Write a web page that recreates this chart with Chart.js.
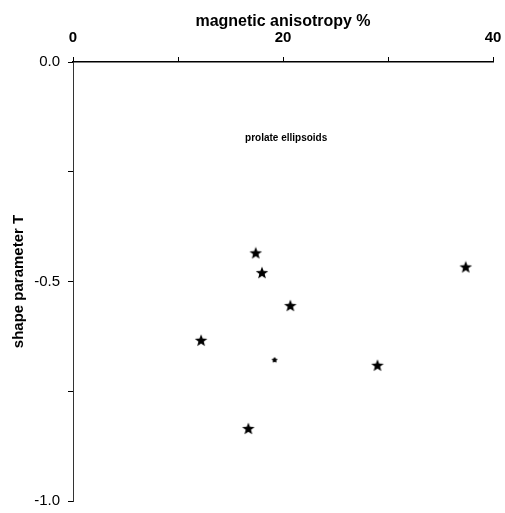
<!DOCTYPE html>
<html>
<head>
<meta charset="utf-8">
<script src="https://cdn.jsdelivr.net/npm/chart.js@4/dist/chart.umd.min.js"></script>
<style>
  html, body { margin: 0; padding: 0; background: #fff; }
  #wrap { width: 505px; height: 513px; }
</style>
</head>
<body>
<div id="wrap"><canvas id="c" width="505" height="513"></canvas></div>
<script>
// Samples: magnetic anisotropy (%) against shape parameter T
const anisotropy = [17.4, 18.0, 20.7, 12.2, 16.7, 37.4, 29.0];
const shapeT     = [-0.436, -0.481, -0.556, -0.635, -0.836, -0.468, -0.692];

// a faint, partly printed sample
const faintAnisotropy = [19.2];
const faintShapeT     = [-0.679];

const xTickLabels = { 0: '0', 20: '20', 40: '40' };
const yTickLabels = { '0': '0.0', '-0.5': '-0.5', '-1': '-1.0' };

// filled five-pointed star used as the point marker
function makeStar(size, outer, inner) {
  const cv = document.createElement('canvas');
  cv.width = size; cv.height = size;
  const g = cv.getContext('2d');
  const c = size / 2;
  g.beginPath();
  for (let i = 0; i < 10; i++) {
    const r = i % 2 === 0 ? outer : inner;
    const a = -Math.PI / 2 + i * Math.PI / 5;
    const px = c + r * Math.cos(a), py = c + r * Math.sin(a);
    if (i === 0) g.moveTo(px, py); else g.lineTo(px, py);
  }
  g.closePath();
  g.fillStyle = '#000';
  g.fill();
  return cv;
}
const star = makeStar(14, 6.6, 2.8);
const smallStar = makeStar(8, 3.2, 1.8);

const toPoints = (xs, ys) => xs.map((x, i) => ({ x: x, y: ys[i] }));

// region note written inside the plot
const notePlugin = {
  id: 'note',
  afterDatasetsDraw(chart) {
    const { ctx, scales } = chart;
    ctx.save();
    ctx.font = 'bold 10px "Liberation Sans", Arial, sans-serif';
    ctx.fillStyle = '#000';
    ctx.textAlign = 'center';
    ctx.textBaseline = 'middle';
    ctx.fillText('prolate ellipsoids', scales.x.getPixelForValue(20.3), scales.y.getPixelForValue(-0.174));
    ctx.restore();
  }
};

const font = '"Liberation Sans", Arial, sans-serif';

new Chart(document.getElementById('c'), {
  type: 'scatter',
  data: {
    datasets: [
      {
        data: toPoints(anisotropy, shapeT),
        pointStyle: star,
        pointRadius: 7,
        pointHoverRadius: 7
      },
      {
        data: toPoints(faintAnisotropy, faintShapeT),
        pointStyle: smallStar,
        pointRadius: 4,
        pointHoverRadius: 4
      }
    ]
  },
  options: {
    responsive: false,
    animation: false,
    layout: { padding: { top: 0, left: 0, right: 12, bottom: 12 } },
    plugins: {
      legend: { display: false },
      tooltip: { enabled: false }
    },
    scales: {
      x: {
        type: 'linear',
        position: 'top',
        min: 0,
        max: 40,
        afterFit(s) { s.height = 62; s.paddingLeft = 0; s.paddingRight = 0; },
        ticks: {
          stepSize: 10,
          color: '#000',
          padding: 10,
          maxRotation: 0,
          font: { family: font, size: 15, weight: 'bold' },
          callback: v => xTickLabels[v] !== undefined ? xTickLabels[v] : ''
        },
        grid: {
          drawOnChartArea: false,
          drawTicks: true,
          tickLength: 5,
          color: '#000',
          lineWidth: 1
        },
        border: { display: true, color: '#000', width: 1.5 },
        title: {
          display: true,
          text: 'magnetic anisotropy %',
          color: '#000',
          padding: { top: 12, bottom: 0 },
          font: { family: font, size: 16, weight: 'bold' }
        }
      },
      y: {
        type: 'linear',
        position: 'left',
        min: -1,
        max: 0,
        afterFit(s) { s.width = 73; s.paddingTop = 0; s.paddingBottom = 0; },
        ticks: {
          stepSize: 0.25,
          color: '#000',
          padding: 8,
          font: { family: font, size: 15 },
          callback: v => yTickLabels[String(v)] !== undefined ? yTickLabels[String(v)] : ''
        },
        grid: {
          drawOnChartArea: false,
          drawTicks: true,
          tickLength: 5,
          color: '#000',
          lineWidth: 1
        },
        border: { display: true, color: '#333', width: 1, dash: [9, 3, 1, 3] },
        title: {
          display: true,
          text: 'shape parameter T',
          color: '#000',
          padding: { top: 10, bottom: 0 },
          font: { family: font, size: 15, weight: 'bold' }
        }
      }
    }
  },
  plugins: [notePlugin]
});
</script>
</body>
</html>
